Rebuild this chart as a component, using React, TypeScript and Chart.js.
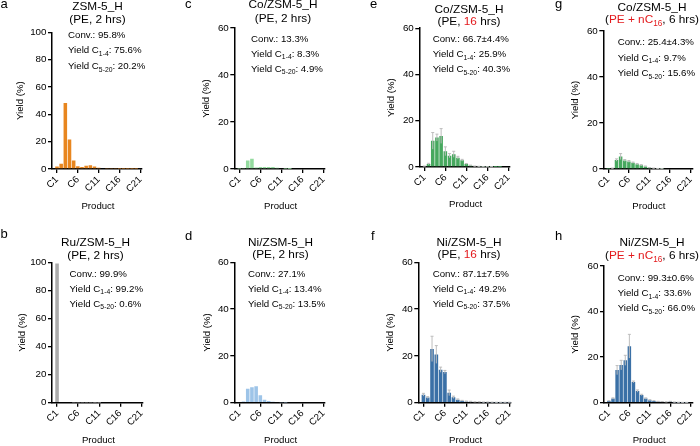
import React, { useEffect, useRef } from 'react';
import { Chart, registerables } from 'chart.js';

Chart.register(...registerables);

// ---------- data ----------
const carbonNumbers = [1, 2, 3, 4, 5, 6, 7, 8, 9, 10, 11, 12, 13, 14, 15, 16, 17, 18, 19, 20, 21];
const xTickValues = [1, 6, 11, 16, 21];

const yieldZSM5 = [1.8, 3.8, 48.3, 21.6, 6.2, 2.0, 1.5, 2.3, 2.8, 1.8, 0.9, 0.6, 0.4, 0.3, 0.3, 0.2, 0.2, 0.15, 0.1, 0.1, 0];
const yieldRu2h = [99.2, 0, 0, 0, 0.1, 0.1, 0.1, 0.1, 0.1, 0.05, 0.05, 0, 0, 0, 0, 0, 0, 0, 0, 0, 0];
const yieldCo2h = [0.1, 0.2, 3.6, 4.4, 0.6, 0.9, 0.9, 0.9, 0.8, 0.5, 0.3, 0.1, 0.05, 0, 0, 0, 0, 0, 0, 0, 0];
const yieldNi2h = [0.3, 0.5, 6.0, 6.6, 7.0, 3.2, 1.3, 0.7, 0.4, 0.3, 0.2, 0.1, 0, 0, 0, 0, 0, 0, 0, 0, 0];
const yieldCo16h = [0.3, 1.3, 11.3, 12.7, 13.4, 6.8, 4.9, 5.5, 4.0, 2.9, 1.3, 0.7, 0.3, 0.2, 0.1, 0.1, 0.1, 0.05, 0.05, 0, 0];
const errCo16h = [0.1, 0.3, 3.6, 1.5, 3.2, 1.9, 0.9, 1.3, 0.6, 0.4, 0.2, 0.1, 0.1, 0.1, 0.05, 0.05, 0.05, 0, 0, 0, 0];
const yieldNi16h = [3.4, 2.2, 23.0, 20.6, 14.1, 13.1, 4.2, 2.3, 1.3, 0.8, 0.5, 0.4, 0.3, 0.3, 0.2, 0.2, 0.15, 0.1, 0.1, 0.1, 0.1];
const errNi16h = [0.6, 0.4, 5.4, 3.8, 1.1, 0.7, 1.2, 0.5, 0.3, 0.2, 0.2, 0.2, 0.1, 0.1, 0.1, 0.1, 0.1, 0.1, 0.1, 0.1, 0.1];
const yieldCoC16 = [0.1, 0.3, 3.9, 5.4, 3.7, 3.3, 2.7, 2.1, 1.6, 1.1, 0.5, 0.3, 0.2, 0.1, 0, 0, 0, 0, 0, 0, 0];
const errCoC16 = [0, 0.1, 0.5, 1.3, 0.4, 0.4, 0.3, 0.3, 0.3, 0.2, 0.1, 0.1, 0.05, 0.05, 0, 0, 0, 0, 0, 0, 0];
const yieldNiC16 = [0.7, 1.8, 14.3, 16.5, 18.6, 24.8, 9.1, 5.1, 3.4, 1.8, 1.1, 0.8, 0.5, 0.4, 0.3, 0.5, 0.2, 0.1, 0.1, 0.1, 0];
const errNiC16 = [0.2, 0.3, 2.0, 2.1, 2.2, 5.2, 0.4, 0.5, 0.3, 0.3, 0.2, 0.1, 0.1, 0.1, 0.1, 0.1, 0.1, 0.1, 0.05, 0.05, 0];

const convTexts = ['95.8%', '99.9%', '13.3%', '27.1%', '66.7±4.4%', '87.1±7.5%', '25.4±4.3%', '99.3±0.6%'];
const yieldC14Texts = ['75.6%', '99.2%', '8.3%', '13.4%', '25.9%', '49.2%', '9.7%', '33.6%'];
const yieldC520Texts = ['20.2%', '0.6%', '4.9%', '13.5%', '40.3%', '37.5%', '15.6%', '66.0%'];
const catalystNames = ['ZSM-5_H', 'Ru/ZSM-5_H', 'Co/ZSM-5_H', 'Ni/ZSM-5_H', 'Co/ZSM-5_H', 'Ni/ZSM-5_H', 'Co/ZSM-5_H', 'Ni/ZSM-5_H'];
const panelLetters = ['a', 'b', 'c', 'd', 'e', 'f', 'g', 'h'];

// ---------- styling / layout ----------
const FONT = '"Liberation Sans", Arial, Helvetica, sans-serif';
const RED = '#E3191C';
const Y_AXIS_W = 40;
const X_AXIS_H = 40;

type Seg = { t: string; c?: string; sub?: boolean };

const cond2h: Seg[] = [{ t: '(PE, 2 hrs)' }];
const cond16h: Seg[] = [{ t: '(PE, ' }, { t: '16', c: RED }, { t: ' hrs)' }];
const condC16: Seg[] = [{ t: '(' }, { t: 'PE + nC', c: RED }, { t: '16', c: RED, sub: true }, { t: ', 6 hrs)' }];

type PanelSpec = {
  idx: number;
  values: number[];
  errors?: number[];
  color: string;
  yMax: number;
  cond: Seg[];
  cell: { x: number; y: number; w: number; h: number };
  area: { l: number; r: number; t: number; b: number };
  letter: { x: number; y: number };
  title: { cx: number; y1: number; y2: number };
  ann: { x: number; y: number[] };
  yTitleX: number;
};

const panels: PanelSpec[] = [
  {
    idx: 0, values: yieldZSM5, color: '#E8861F', yMax: 100, cond: cond2h,
    cell: { x: 0, y: 0, w: 175, h: 220 }, area: { l: 52, r: 142, t: 32.3, b: 169 },
    letter: { x: 0.5, y: 7.5 }, title: { cx: 97.5, y1: 10, y2: 22.5 }, ann: { x: 68, y: [37.7, 53.3, 69] }, yTitleX: 20.7,
  },
  {
    idx: 1, values: yieldRu2h, color: '#ABABAB', yMax: 100, cond: cond2h,
    cell: { x: 0, y: 220, w: 175, h: 226 }, area: { l: 52, r: 143, t: 262.3, b: 402.7 },
    letter: { x: 0.5, y: 238 }, title: { cx: 95.5, y1: 245.5, y2: 258.5 }, ann: { x: 69.5, y: [276.7, 291.7, 306.7] }, yTitleX: 22.3,
  },
  {
    idx: 2, values: yieldCo2h, color: '#93DB9E', yMax: 60, cond: cond2h,
    cell: { x: 175, y: 0, w: 175, h: 220 }, area: { l: 234.3, r: 325, t: 28, b: 169 },
    letter: { x: 185, y: 8.3 }, title: { cx: 283, y1: 8, y2: 22 }, ann: { x: 251, y: [41.7, 56.7, 71.7] }, yTitleX: 206.7,
  },
  {
    idx: 3, values: yieldNi2h, color: '#9DC4E8', yMax: 60, cond: cond2h,
    cell: { x: 175, y: 220, w: 175, h: 226 }, area: { l: 234.3, r: 325, t: 262.3, b: 402.7 },
    letter: { x: 185, y: 240 }, title: { cx: 280.5, y1: 245.5, y2: 257.5 }, ann: { x: 248, y: [276.7, 291.7, 306.7] }, yTitleX: 207,
  },
  {
    idx: 4, values: yieldCo16h, errors: errCo16h, color: '#46A85E', yMax: 60, cond: cond16h,
    cell: { x: 350, y: 0, w: 175, h: 220 }, area: { l: 419.3, r: 510, t: 28.2, b: 167 },
    letter: { x: 370, y: 8.3 }, title: { cx: 469, y1: 12.5, y2: 24.5 }, ann: { x: 432.7, y: [41.7, 57, 72] }, yTitleX: 391.7,
  },
  {
    idx: 5, values: yieldNi16h, errors: errNi16h, color: '#3A70A6', yMax: 60, cond: cond16h,
    cell: { x: 350, y: 220, w: 175, h: 226 }, area: { l: 418.3, r: 511, t: 262.3, b: 402.7 },
    letter: { x: 371, y: 240 }, title: { cx: 469, y1: 245.5, y2: 257.5 }, ann: { x: 432.7, y: [276.7, 291.7, 306.7] }, yTitleX: 390.7,
  },
  {
    idx: 6, values: yieldCoC16, errors: errCoC16, color: '#46A85E', yMax: 60, cond: condC16,
    cell: { x: 525, y: 0, w: 175, h: 220 }, area: { l: 603.3, r: 695, t: 31, b: 169 },
    letter: { x: 555, y: 8 }, title: { cx: 652, y1: 10.5, y2: 22.5 }, ann: { x: 617.7, y: [45.3, 60.7, 76] }, yTitleX: 575.7,
  },
  {
    idx: 7, values: yieldNiC16, errors: errNiC16, color: '#3A70A6', yMax: 60, cond: condC16,
    cell: { x: 525, y: 220, w: 175, h: 226 }, area: { l: 604, r: 695, t: 266, b: 402.7 },
    letter: { x: 555, y: 240 }, title: { cx: 652, y1: 246, y2: 258.5 }, ann: { x: 617.7, y: [281, 296, 311] }, yTitleX: 575.7,
  },
];

function drawRich(ctx: CanvasRenderingContext2D, segs: Seg[], x: number, y: number, size: number, align: 'left' | 'center') {
  const subSize = size * 0.7;
  const widths = segs.map((s) => {
    ctx.font = `${s.sub ? subSize : size}px ${FONT}`;
    return ctx.measureText(s.t).width;
  });
  const total = widths.reduce((a, b) => a + b, 0);
  let cx = align === 'center' ? x - total / 2 : x;
  ctx.textAlign = 'left';
  ctx.textBaseline = 'alphabetic';
  segs.forEach((s, i) => {
    ctx.font = `${s.sub ? subSize : size}px ${FONT}`;
    ctx.fillStyle = s.c || '#000';
    ctx.fillText(s.t, cx, s.sub ? y + size * 0.28 : y);
    cx += widths[i];
  });
}

function Panel({ p }: { p: PanelSpec }) {
  const ref = useRef<HTMLCanvasElement>(null);
  useEffect(() => {
    const canvas = ref.current;
    if (!canvas) return;
    const { cell, area } = p;
    const padding = {
      left: area.l - cell.x - Y_AXIS_W,
      top: area.t - cell.y,
      right: cell.x + cell.w - area.r,
      bottom: cell.y + cell.h - area.b - X_AXIS_H,
    };
    const ox = cell.x;
    const oy = cell.y;

    const errorBars = {
      id: 'errorBars',
      afterDatasetsDraw(chart: any) {
        if (!p.errors) return;
        const ctx = chart.ctx as CanvasRenderingContext2D;
        const meta = chart.getDatasetMeta(0);
        const ys = chart.scales.y;
        ctx.save();
        ctx.strokeStyle = '#BDBDBD';
        ctx.lineWidth = 1;
        meta.data.forEach((el: any, i: number) => {
          const v = p.values[i];
          const e = p.errors![i];
          if (!e) return;
          const top = ys.getPixelForValue(v + e);
          const bot = ys.getPixelForValue(Math.max(v - e, 0));
          ctx.beginPath();
          ctx.moveTo(el.x, bot);
          ctx.lineTo(el.x, top);
          ctx.moveTo(el.x - 1.5, top);
          ctx.lineTo(el.x + 1.5, top);
          ctx.stroke();
        });
        ctx.restore();
      },
    };

    const texts = {
      id: 'panelTexts',
      afterDraw(chart: any) {
        const ctx = chart.ctx as CanvasRenderingContext2D;
        const ca = chart.chartArea;
        ctx.save();
        // panel letter
        ctx.font = `13px ${FONT}`;
        ctx.fillStyle = '#000';
        ctx.textAlign = 'left';
        ctx.textBaseline = 'alphabetic';
        ctx.fillText(panelLetters[p.idx], p.letter.x - ox, p.letter.y - oy);
        // title
        drawRich(ctx, [{ t: catalystNames[p.idx] }], p.title.cx - ox, p.title.y1 - oy, 11.8, 'center');
        drawRich(ctx, p.cond, p.title.cx - ox, p.title.y2 - oy, 11.8, 'center');
        // annotations
        const ax = p.ann.x - ox;
        drawRich(ctx, [{ t: 'Conv.: ' + convTexts[p.idx] }], ax, p.ann.y[0] - oy, 9.7, 'left');
        drawRich(ctx, [{ t: 'Yield C' }, { t: '1-4', sub: true }, { t: ': ' + yieldC14Texts[p.idx] }], ax, p.ann.y[1] - oy, 9.7, 'left');
        drawRich(ctx, [{ t: 'Yield C' }, { t: '5-20', sub: true }, { t: ': ' + yieldC520Texts[p.idx] }], ax, p.ann.y[2] - oy, 9.7, 'left');
        // axis titles
        ctx.font = `9.6px ${FONT}`;
        ctx.fillStyle = '#000';
        ctx.textAlign = 'center';
        ctx.textBaseline = 'middle';
        ctx.fillText('Product', (ca.left + ca.right) / 2 + 1, ca.bottom + 37.5);
        ctx.translate(p.yTitleX - ox, (ca.top + ca.bottom) / 2);
        ctx.rotate(-Math.PI / 2);
        ctx.fillText('Yield (%)', 0, 0);
        ctx.restore();
      },
    };

    const chart = new Chart(canvas, {
      type: 'bar',
      data: {
        datasets: [
          {
            data: carbonNumbers.map((c, i) => ({ x: c, y: p.values[i] })),
            backgroundColor: p.color,
            borderWidth: 0,
            barPercentage: 0.85,
            categoryPercentage: 1,
          },
        ],
      },
      options: {
        animation: false,
        responsive: false,
        devicePixelRatio: 1,
        layout: { padding },
        plugins: { legend: { display: false }, tooltip: { enabled: false }, title: { display: false } },
        scales: {
          x: {
            type: 'linear',
            min: -0.2,
            max: 21.4,
            offset: false,
            grid: { offset: false, drawOnChartArea: false, drawTicks: true, tickLength: 4, color: '#000', lineWidth: 1.3 },
            border: { display: true, color: '#000', width: 1.5 },
            afterBuildTicks: (scale: any) => {
              scale.ticks = xTickValues.map((v) => ({ value: v }));
            },
            afterFit: (scale: any) => {
              scale.height = X_AXIS_H;
            },
            ticks: {
              autoSkip: false,
              minRotation: 45,
              maxRotation: 45,
              padding: 1,
              color: '#000',
              font: { family: FONT, size: 9.6 },
              callback: (v: any) => 'C' + v,
            },
          },
          y: {
            type: 'linear',
            min: 0,
            max: p.yMax,
            grid: { drawOnChartArea: false, drawTicks: true, tickLength: 4, color: '#000', lineWidth: 1.3 },
            border: { display: true, color: '#000', width: 1.5 },
            afterFit: (scale: any) => {
              scale.width = Y_AXIS_W;
            },
            ticks: {
              stepSize: 20,
              padding: 1.5,
              color: '#000',
              font: { family: FONT, size: 9.8 },
            },
          },
        },
      },
      plugins: [errorBars, texts],
    } as any);
    return () => chart.destroy();
  }, [p]);

  return (
    <canvas
      ref={ref}
      width={p.cell.w}
      height={p.cell.h}
      style={{ position: 'absolute', left: p.cell.x, top: p.cell.y, width: p.cell.w, height: p.cell.h }}
    />
  );
}

export default function App() {
  return (
    <div style={{ position: 'fixed', left: 0, top: 0, width: 700, height: 446, background: '#fff', overflow: 'hidden' }}>
      {panels.map((p) => (
        <Panel key={p.idx} p={p} />
      ))}
    </div>
  );
}
